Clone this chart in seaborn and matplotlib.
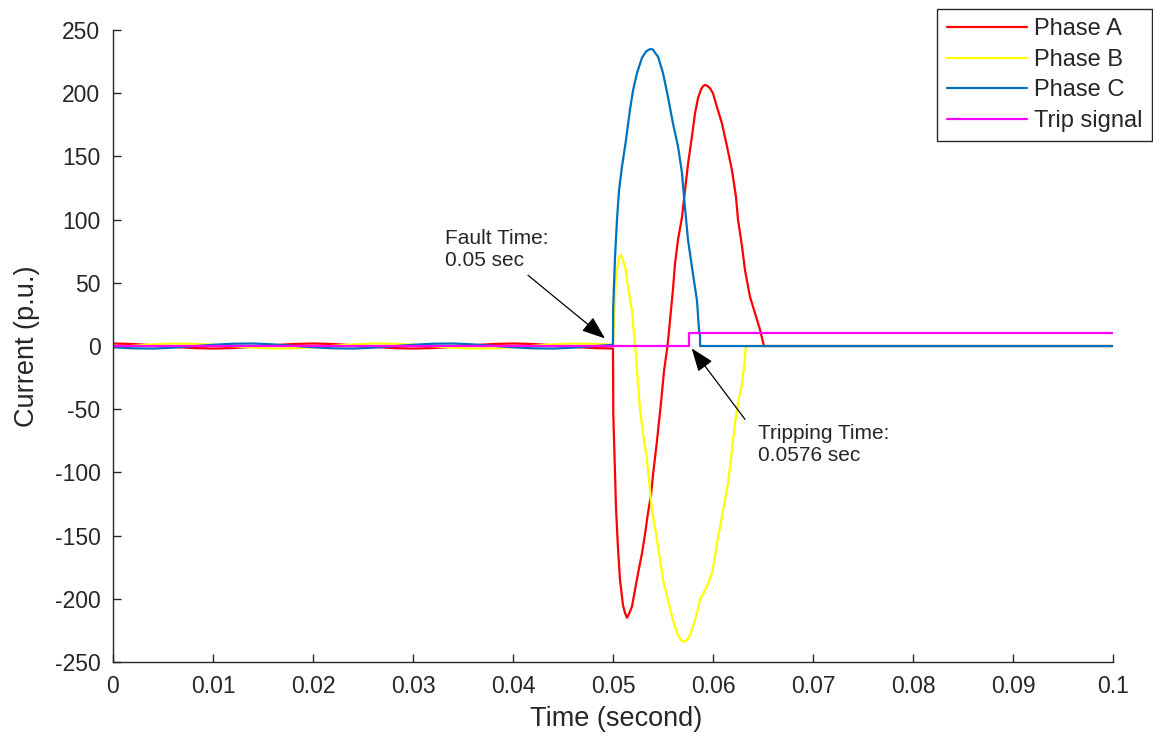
import matplotlib
matplotlib.use("Agg")
import matplotlib.pyplot as plt
import pandas as pd
import seaborn as sns

# steady state before the fault, one sample every 2 ms (0 .. 0.048 s)
pre_t = [0.000, 0.002, 0.004, 0.006, 0.008, 0.010, 0.012, 0.014, 0.016, 0.018,
         0.020, 0.022, 0.024, 0.026, 0.028, 0.030, 0.032, 0.034, 0.036, 0.038,
         0.040, 0.042, 0.044, 0.046, 0.048]
pre_a = [2.0, 1.6, 0.6, -0.6, -1.6, -2.0, -1.6, -0.6, 0.6, 1.6,
         2.0, 1.6, 0.6, -0.6, -1.6, -2.0, -1.6, -0.6, 0.6, 1.6,
         2.0, 1.6, 0.6, -0.6, -1.6]
pre_b = [-1.0, 0.2, 1.3, 2.0, 1.8, 1.0, -0.2, -1.3, -2.0, -1.8,
         -1.0, 0.2, 1.3, 2.0, 1.8, 1.0, -0.2, -1.3, -2.0, -1.8,
         -1.0, 0.2, 1.3, 2.0, 1.8]
pre_c = [-1.0, -1.8, -2.0, -1.3, -0.2, 1.0, 1.8, 2.0, 1.3, 0.2,
         -1.0, -1.8, -2.0, -1.3, -0.2, 1.0, 1.8, 2.0, 1.3, 0.2,
         -1.0, -1.8, -2.0, -1.3, -0.2]

# fault period
a_fault_t = [0.0500, 0.05003, 0.0502, 0.0503, 0.0505, 0.0507, 0.0510, 0.0512, 0.0514, 0.0516,
             0.0519, 0.0522, 0.0525, 0.0529, 0.0532, 0.0535, 0.0538, 0.0540, 0.0544, 0.0548,
             0.0551, 0.05545, 0.0557, 0.0560, 0.0562, 0.0565, 0.0569, 0.0572, 0.0575, 0.0579,
             0.0582, 0.0585, 0.0588, 0.0590, 0.0592, 0.0594, 0.0597, 0.0600, 0.0604, 0.0609,
             0.0614, 0.0619, 0.0623, 0.0625, 0.0629, 0.0632, 0.0637, 0.0642, 0.0647, 0.0651,
             0.1000]
a_fault_i = [-2, -54, -100, -128, -160, -185, -205, -211, -215, -212,
             -206, -193, -180, -164, -149, -132, -118, -102, -75, -45,
             -20, 0, 20, 45, 65, 84, 102, 123, 144, 166,
             184, 196, 203, 205.5, 206.5, 206, 204, 200, 189, 176,
             158, 139, 118, 100, 79, 60, 39, 26, 13, 0,
             0]

b_fault_t = [0.0500, 0.0503, 0.0506, 0.0508, 0.0512, 0.0515, 0.0519, 0.0521, 0.0523, 0.0525,
             0.0527, 0.0530, 0.0534, 0.0537, 0.0539, 0.0544, 0.0547, 0.0550, 0.0555, 0.0560,
             0.0565, 0.0568, 0.0571, 0.0574, 0.0577, 0.0582, 0.0587, 0.0594, 0.0599, 0.0602,
             0.0605, 0.0609, 0.0612, 0.0615, 0.0619, 0.0622, 0.0625, 0.0629, 0.0632, 0.0633,
             0.1000]
b_fault_i = [1, 55, 70, 72, 63, 47, 28, 10, -8, -30,
             -50, -69, -90, -114, -130, -153, -169, -185, -201, -217,
             -229, -232.5, -234, -232.5, -229, -217, -201, -190, -180, -167,
             -151, -135, -122, -109, -82, -61, -45, -30, -9, 0,
             0]

c_fault_t = [0.0500, 0.05002, 0.0502, 0.0504, 0.0506, 0.0509, 0.0513, 0.0517, 0.0520, 0.0524,
             0.0529, 0.0533, 0.0536, 0.0538, 0.0540, 0.0542, 0.0545, 0.0550, 0.0555, 0.0560,
             0.0565, 0.0569, 0.0571, 0.0575, 0.0580, 0.0584, 0.0586, 0.0587, 0.05871, 0.1000]
c_fault_i = [1, 30, 70, 100, 123, 142, 163, 187, 202, 216,
             228, 233, 234.5, 235, 234.5, 232, 229, 216, 197, 176,
             158, 137, 118, 84, 57, 36, 13, 8, 0, 0]

trip_t = [0.0, 0.0576, 0.0576, 0.1]
trip_i = [0, 0, 10, 10]

signals = ["Phase A", "Phase B", "Phase C", "Trip signal"]
colors = {"Phase A": "#ff0000", "Phase B": "#ffff00",
          "Phase C": "#0072bd", "Trip signal": "#ff00ff"}

xticks = [0, 0.01, 0.02, 0.03, 0.04, 0.05, 0.06, 0.07, 0.08, 0.09, 0.1]
xtick_labels = ["0", "0.01", "0.02", "0.03", "0.04", "0.05",
                "0.06", "0.07", "0.08", "0.09", "0.1"]
yticks = [-250, -200, -150, -100, -50, 0, 50, 100, 150, 200, 250]

series = [
    ("Phase A", pre_t + a_fault_t, pre_a + a_fault_i),
    ("Phase B", pre_t + b_fault_t, pre_b + b_fault_i),
    ("Phase C", pre_t + c_fault_t, pre_c + c_fault_i),
    ("Trip signal", trip_t, trip_i),
]
df = pd.concat(
    [pd.DataFrame({"time": t, "current": i, "signal": name}) for name, t, i in series],
    ignore_index=True,
)

sns.set_theme(style="white")
plt.rcParams["font.family"] = ["Liberation Sans", "DejaVu Sans"]
plt.rcParams["axes.unicode_minus"] = False

dark = "#262626"
fig, ax = plt.subplots(figsize=(11.53, 7.36), dpi=100)
fig.subplots_adjust(left=0.098, right=0.9653, bottom=0.1005, top=0.9592)

sns.lineplot(data=df, x="time", y="current", hue="signal", hue_order=signals,
             palette=colors, estimator=None, sort=False, errorbar=None,
             linewidth=1.6, ax=ax)

ax.set_xlim(0, 0.1)
ax.set_ylim(-250, 250)
ax.set_xticks(xticks)
ax.set_xticklabels(xtick_labels)
ax.set_yticks(yticks)
ax.set_yticklabels([str(v) for v in yticks])
ax.tick_params(bottom=True, left=True, direction="in", length=6, width=1,
               color=dark, labelcolor=dark, labelsize=16.5, pad=9)
for side in ["top", "right"]:
    ax.spines[side].set_visible(False)
for side in ["left", "bottom"]:
    ax.spines[side].set_color(dark)
    ax.spines[side].set_linewidth(1)

ax.set_xlabel("Time (second)", fontsize=19.5, color=dark, va="center")
ax.set_ylabel("Current (p.u.)", fontsize=19.5, color=dark, va="center")
ax.xaxis.set_label_coords(0.503, -57 / 632)
ax.yaxis.set_label_coords(-86 / 1000, 0.5)

# annotations
arrow = dict(arrowstyle="-|>,head_length=0.72,head_width=0.27", color="black",
             lw=0.9, shrinkA=0, shrinkB=0, mutation_scale=20)
ax.annotate("", xy=(0.0492, 6), xytext=(0.0415, 56), arrowprops=arrow)
ax.annotate("", xy=(0.05787, -1.8), xytext=(0.0632, -58), arrowprops=arrow)
ax.text(0.0332, 76.6, "Fault Time:\n0.05 sec", fontsize=15, color=dark,
        ha="left", va="center", linespacing=1.2)
ax.text(0.06447, -77.7, "Tripping Time:\n0.0576 sec", fontsize=15, color=dark,
        ha="left", va="center", linespacing=1.2)

handles, labels = ax.get_legend_handles_labels()
ax.legend(handles, labels, loc="upper right", bbox_to_anchor=(1152 / 1153, 1 - 9 / 736),
          bbox_transform=fig.transFigure, frameon=True, fancybox=False,
          edgecolor=dark, framealpha=1, fontsize=17, handlelength=3.4,
          handletextpad=0.3, labelspacing=0.36, borderpad=0.4, borderaxespad=0)

plt.savefig("out.png", dpi=100)
plt.close()
